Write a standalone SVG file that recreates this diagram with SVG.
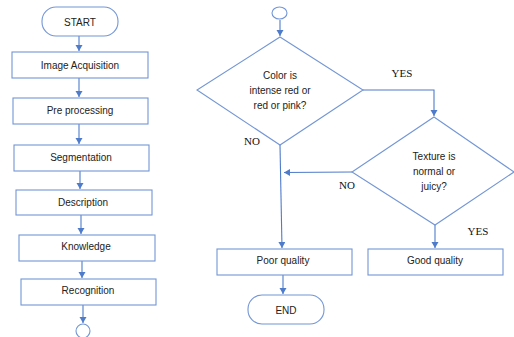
<svg xmlns="http://www.w3.org/2000/svg" width="514" height="337" viewBox="0 0 514 337">
<style>
.box{fill:#fff;stroke:#7396D6;stroke-width:1.1}
.t{font-family:"Liberation Sans",Arial,sans-serif;font-size:10px;fill:#222;text-anchor:middle;dominant-baseline:central}
.lbl{font-family:"Liberation Serif","Times New Roman",serif;font-size:11px;fill:#111;text-anchor:middle;dominant-baseline:central}
.c{fill:none;stroke:#4F7BCB;stroke-width:1.1}
</style>
<defs>
<marker id="ah" markerWidth="8" markerHeight="8" refX="6" refY="3.5" orient="auto" markerUnits="userSpaceOnUse">
<path d="M0,0 L6,3.5 L0,7 Z" fill="#4F7BCB"/>
</marker>
</defs>
<rect width="514" height="337" fill="#fff"/>
<g id="connectors">
<line class="c" x1="79" y1="36" x2="79" y2="51" marker-end="url(#ah)"/>
<line class="c" x1="79" y1="78" x2="79" y2="97" marker-end="url(#ah)"/>
<line class="c" x1="79" y1="124" x2="79" y2="144" marker-end="url(#ah)"/>
<line class="c" x1="80" y1="171" x2="80" y2="189" marker-end="url(#ah)"/>
<line class="c" x1="81" y1="215" x2="81" y2="234" marker-end="url(#ah)"/>
<line class="c" x1="82" y1="261" x2="82" y2="278" marker-end="url(#ah)"/>
<line class="c" x1="83" y1="305" x2="83" y2="323" marker-end="url(#ah)"/>
<line class="c" x1="280" y1="20" x2="280" y2="36" marker-end="url(#ah)"/>
<polyline class="c" points="363,90 434,90 434,116" marker-end="url(#ah)"/>
<line class="c" x1="280" y1="145" x2="282" y2="248" marker-end="url(#ah)"/>
<line class="c" x1="352" y1="172" x2="284" y2="172.5" marker-end="url(#ah)"/>
<line class="c" x1="435" y1="225" x2="435" y2="248" marker-end="url(#ah)"/>
<line class="c" x1="283" y1="275" x2="283" y2="294" marker-end="url(#ah)"/>
</g>
<g id="start"><rect class="box" x="42" y="7" width="76" height="29" rx="14"/><text class="t" x="80" y="22">START</text></g>
<g id="acq"><rect class="box" x="12" y="52" width="136" height="26"/><text class="t" x="80" y="65">Image Acquisition</text></g>
<g id="pre"><rect class="box" x="13" y="98" width="135" height="26"/><text class="t" x="80" y="110">Pre processing</text></g>
<g id="seg"><rect class="box" x="14" y="145" width="135" height="26"/><text class="t" x="81" y="157">Segmentation</text></g>
<g id="desc"><rect class="box" x="16" y="190" width="136" height="25"/><text class="t" x="83" y="202">Description</text></g>
<g id="know"><rect class="box" x="19" y="235" width="136" height="26"/><text class="t" x="86" y="246">Knowledge</text></g>
<g id="recog"><rect class="box" x="21" y="279" width="135" height="26"/><text class="t" x="88" y="290">Recognition</text></g>
<g id="endcircle1"><circle class="box" cx="83" cy="331" r="7"/></g>
<g id="startcircle2"><ellipse class="box" cx="279.5" cy="13" rx="7.5" ry="6"/></g>
<g id="d1"><polygon class="box" points="280,37 363,90 280,145 197,90"/>
<text class="t" x="280" y="75">Color is</text>
<text class="t" x="280" y="90">intense red or</text>
<text class="t" x="280" y="105">red or pink?</text></g>
<g id="d2"><polygon class="box" points="434,117 514,172 435,225 352,172"/>
<text class="t" x="434" y="156">Texture is</text>
<text class="t" x="434" y="171">normal or</text>
<text class="t" x="434" y="186">juicy?</text></g>
<g id="poor"><rect class="box" x="217" y="249" width="135" height="26"/><text class="t" x="283" y="260">Poor quality</text></g>
<g id="good"><rect class="box" x="368" y="249" width="135" height="26"/><text class="t" x="435" y="260">Good quality</text></g>
<g id="end"><rect class="box" x="248" y="295" width="76" height="29" rx="14"/><text class="t" x="286" y="310">END</text></g>
<g id="labels">
<text class="lbl" x="402" y="73">YES</text>
<text class="lbl" x="252" y="141">NO</text>
<text class="lbl" x="347" y="185">NO</text>
<text class="lbl" x="478" y="231">YES</text>
</g>
</svg>
